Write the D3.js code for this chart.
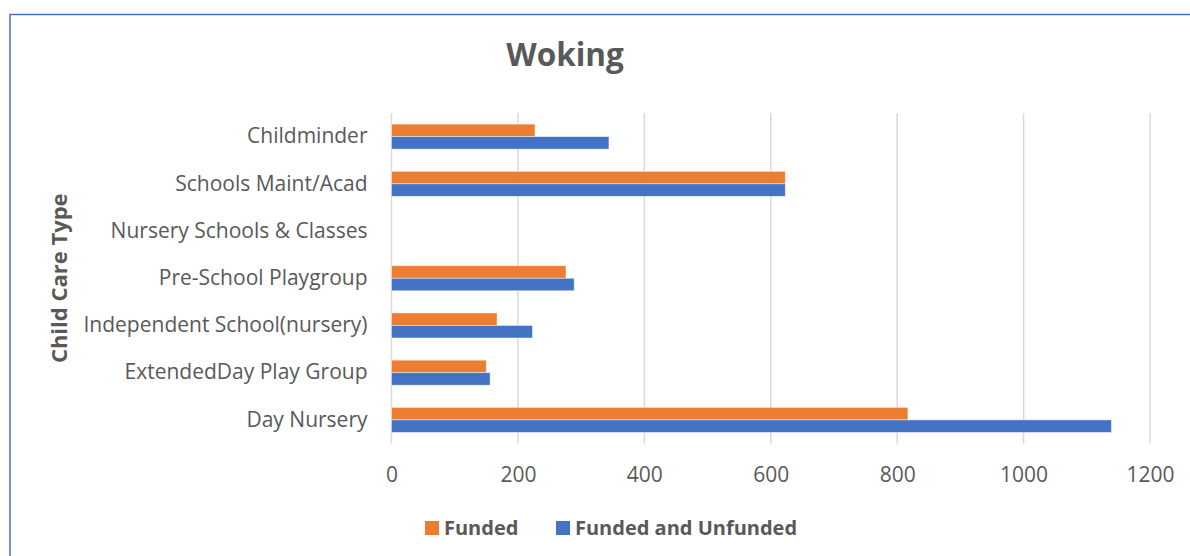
<!DOCTYPE html>
<html>
<head>
<meta charset="utf-8">
<script src="https://cdn.jsdelivr.net/npm/d3@7"></script>
<style>
  html, body { margin: 0; padding: 0; background: #fff; }
  svg { display: block; font-family: "Open Sans", "Noto Sans", sans-serif; }
</style>
</head>
<body>
<svg id="chart" width="1190" height="556"></svg>
<script>
// Child care places in Woking, by type of provision
const categories = [
  "Childminder",
  "Schools Maint/Acad",
  "Nursery Schools & Classes",
  "Pre-School Playgroup",
  "Independent School(nursery)",
  "ExtendedDay Play Group",
  "Day Nursery"
];
const funded = [227, 623, 0, 276, 167, 150, 817];
const fundedAndUnfunded = [344, 623, 0, 289, 223, 156, 1139];
const seriesNames = ["Funded", "Funded and Unfunded"];
const seriesColors = ["#ED7D31", "#4472C4"];
const xTicks = [0, 200, 400, 600, 800, 1000, 1200];

const svg = d3.select("#chart");
const W = 1190, H = 556;
const FONT = "'Open Sans', 'Noto Sans', sans-serif";

// chart frame
svg.append("rect")
  .attr("x", 10).attr("y", 14.5)
  .attr("width", W + 10).attr("height", H + 10)
  .attr("fill", "#fff")
  .attr("stroke", "#4472C4").attr("stroke-width", 1.5);

const plot = { left: 391.5, right: 1150, top: 113, bottom: 443.5 };

const x = d3.scaleLinear().domain([0, 1200]).range([plot.left, plot.right]);
const y = d3.scaleBand().domain(categories).range([plot.top, plot.bottom]).paddingInner(0.47).paddingOuter(0.235);
const ySub = d3.scaleBand().domain(seriesNames).range([0, y.bandwidth()]);

// vertical gridlines
svg.append("g")
  .selectAll("line")
  .data(xTicks)
  .join("line")
  .attr("x1", d => x(d)).attr("x2", d => x(d))
  .attr("y1", plot.top).attr("y2", plot.bottom)
  .attr("stroke", "#d9d9d9").attr("stroke-width", 1.5);

// x tick labels
const xAxis = d3.axisBottom(x).tickValues(xTicks).tickFormat(d3.format("d")).tickSize(0).tickPadding(0);
const gx = svg.append("g").attr("transform", `translate(0,${plot.bottom + 26})`).call(xAxis);
gx.select(".domain").remove();
gx.selectAll("text")
  .attr("font-size", 21).attr("fill", "#595959")
  .attr("font-family", FONT)
  .attr("dy", "0.6em");

// category labels
const yAxis = d3.axisLeft(y).tickSize(0).tickPadding(0);
const gy = svg.append("g").attr("transform", `translate(${plot.left - 24},0)`).call(yAxis);
gy.select(".domain").remove();
gy.selectAll("text")
  .attr("font-size", 21).attr("fill", "#595959")
  .attr("font-family", FONT);

// bars
const series = [funded, fundedAndUnfunded];
series.forEach((vals, si) => {
  svg.append("g")
    .selectAll("rect")
    .data(categories.map((c, i) => ({ c, v: vals[i] })).filter(d => d.v > 0))
    .join("rect")
    .attr("x", x(0))
    .attr("y", d => y(d.c) + ySub(seriesNames[si]))
    .attr("width", d => x(d.v) - x(0))
    .attr("height", ySub.bandwidth())
    .attr("fill", seriesColors[si])
    .attr("stroke", "#fff").attr("stroke-opacity", 0.6).attr("stroke-width", 0.75);
});

// title
svg.append("text")
  .attr("x", 565).attr("y", 66)
  .attr("text-anchor", "middle")
  .attr("font-size", 31.5).attr("font-weight", "bold")
  .attr("font-family", FONT)
  .attr("fill", "#595959")
  .text("Woking");

// vertical axis title
svg.append("text")
  .attr("transform", `translate(67,${(plot.top + plot.bottom) / 2}) rotate(-90)`)
  .attr("text-anchor", "middle")
  .attr("font-size", 22).attr("font-weight", "bold")
  .attr("font-family", FONT)
  .attr("fill", "#595959")
  .text("Child Care Type");

// legend
const legendItems = [
  { name: seriesNames[0], color: seriesColors[0], x: 425 },
  { name: seriesNames[1], color: seriesColors[1], x: 556 }
];
const lg = svg.append("g");
legendItems.forEach(it => {
  lg.append("rect")
    .attr("x", it.x).attr("y", 521)
    .attr("width", 14).attr("height", 14)
    .attr("fill", it.color);
  lg.append("text")
    .attr("x", it.x + 19).attr("y", 535)
    .attr("font-size", 20).attr("font-weight", "bold")
    .attr("font-family", FONT)
    .attr("fill", "#595959")
    .text(it.name);
});
</script>
</body>
</html>
